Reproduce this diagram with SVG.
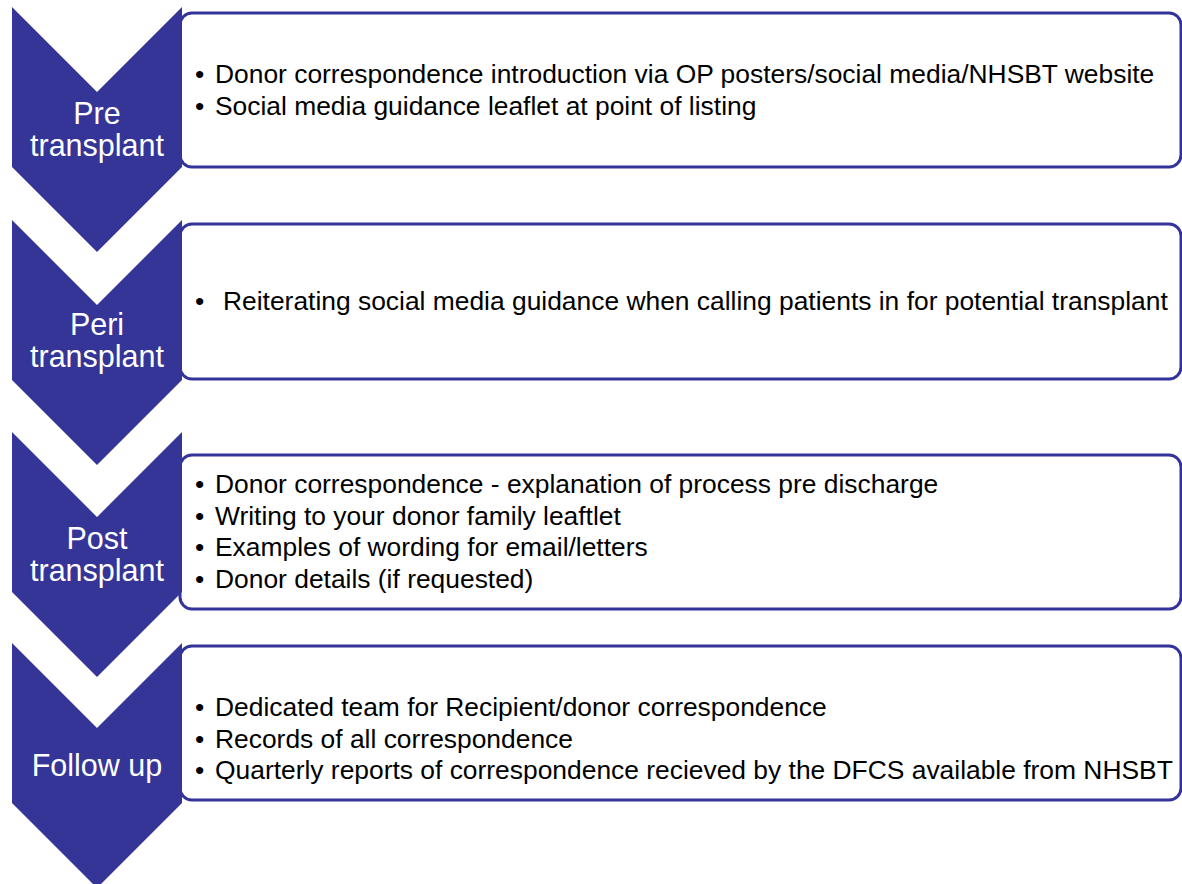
<svg xmlns="http://www.w3.org/2000/svg" width="1182" height="884" viewBox="0 0 1182 884">
<style>
.box{fill:#ffffff;stroke:#333399;stroke-width:3}
.chev{fill:#353597}
.lbl{font-family:"Liberation Sans",Arial,sans-serif;font-size:30.5px;fill:#ffffff;text-anchor:middle}
.txt{font-family:"Liberation Sans",Arial,sans-serif;font-size:26.4px;fill:#000000}
</style>
<rect width="1182" height="884" fill="#ffffff"/>
<g id="connectors"></g>
<g id="stage-pre">
<rect class="box" x="180" y="13" width="1001" height="154" rx="12"/>
<polygon class="chev" points="12,7 97,92 182,7 182,167 97,252 12,167"/>
<text class="lbl" x="97" y="124">Pre</text>
<text class="lbl" x="97" y="156">transplant</text>
<text class="txt" x="195" y="83">•</text>
<text class="txt" x="215" y="83">Donor correspondence introduction via OP posters/social media/NHSBT website</text>
<text class="txt" x="195" y="115">•</text>
<text class="txt" x="215" y="115">Social media guidance leaflet at point of listing</text>
</g>
<g id="stage-peri">
<rect class="box" x="180" y="224" width="1001" height="155" rx="12"/>
<polygon class="chev" points="12,220 97,305 182,220 182,380 97,465 12,380"/>
<text class="lbl" x="97" y="335">Peri</text>
<text class="lbl" x="97" y="367">transplant</text>
<text class="txt" x="195" y="310">•</text>
<text class="txt" x="223" y="310">Reiterating social media guidance when calling patients in for potential transplant</text>
</g>
<g id="stage-post">
<rect class="box" x="180" y="455" width="1001" height="154" rx="12"/>
<polygon class="chev" points="12,432 97,517 182,432 182,592 97,677 12,592"/>
<text class="lbl" x="97" y="549">Post</text>
<text class="lbl" x="97" y="581">transplant</text>
<text class="txt" x="195" y="493">•</text>
<text class="txt" x="215" y="493">Donor correspondence - explanation of process pre discharge</text>
<text class="txt" x="195" y="525">•</text>
<text class="txt" x="215" y="525">Writing to your donor family leaftlet</text>
<text class="txt" x="195" y="556">•</text>
<text class="txt" x="215" y="556">Examples of wording for email/letters</text>
<text class="txt" x="195" y="588">•</text>
<text class="txt" x="215" y="588">Donor details (if requested)</text>
</g>
<g id="stage-follow">
<rect class="box" x="180" y="646" width="1001" height="154" rx="12"/>
<polygon class="chev" points="12,643 97,728 182,643 182,803 97,888 12,803"/>
<text class="lbl" x="97" y="776">Follow up</text>
<text class="txt" x="195" y="716">•</text>
<text class="txt" x="215" y="716">Dedicated team for Recipient/donor correspondence</text>
<text class="txt" x="195" y="748">•</text>
<text class="txt" x="215" y="748">Records of all correspondence</text>
<text class="txt" x="195" y="779">•</text>
<text class="txt" x="215" y="779">Quarterly reports of correspondence recieved by the DFCS available from NHSBT</text>
</g>
</svg>
